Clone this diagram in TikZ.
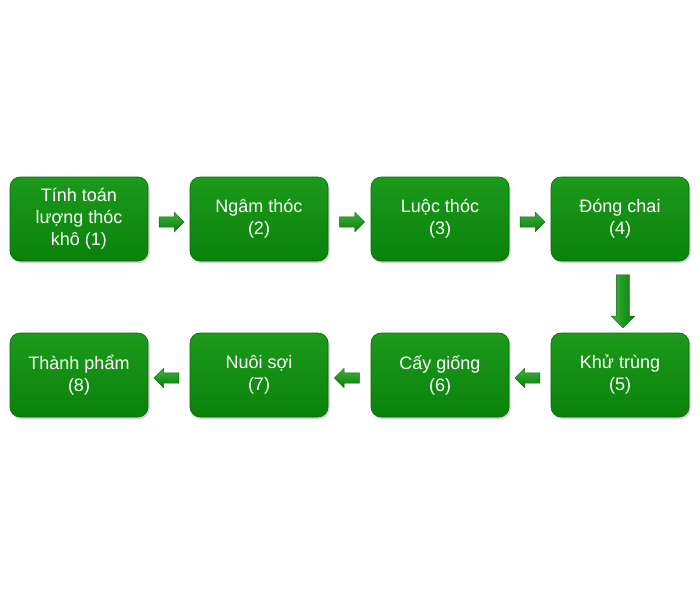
\documentclass[tikz,border=0pt]{standalone}
\usepackage{fontspec}
\setmainfont{Liberation Sans}
\usetikzlibrary{shapes.arrows,shadows,calc}
\definecolor{StepTop}{HTML}{1C9A1C}
\definecolor{StepBottom}{HTML}{0A820A}
\definecolor{StepBorder}{HTML}{086808}
\definecolor{ArrowTop}{HTML}{3CB43C}
\definecolor{ArrowBottom}{HTML}{0A7A0A}

\begin{document}
\begin{tikzpicture}[x=1pt,y=-1pt,
  stepbox/.style={draw=StepBorder,line width=0.6pt,rounded corners=10pt,top color=StepTop,bottom color=StepBottom,
    minimum width=138pt,minimum height=84pt,align=center,text=white,font=\fontsize{18}{22}\selectfont,
    drop shadow={opacity=0.35,shadow xshift=1.5pt,shadow yshift=-2pt}},
  flowarrow/.style={single arrow,draw=StepBorder,line width=0.4pt,top color=ArrowTop,bottom color=ArrowBottom,
    inner sep=5pt,single arrow head extend=4.5pt,minimum height=25pt,single arrow head indent=0pt},
  downarrow/.style={flowarrow,left color=ArrowTop,right color=ArrowBottom,inner sep=6.5pt,single arrow head extend=5pt,
    minimum height=53pt,shape border rotate=270}
]
\useasboundingbox (0,0) rectangle (700,600);
% top row
\node[stepbox] (s1) at (79,219) {Tính toán\\lượng thóc\\khô (1)};
\node[stepbox] (s2) at (259,219) {Ngâm thóc\\(2)};
\node[stepbox] (s3) at (440,219) {Luộc thóc\\(3)};
\node[stepbox] (s4) at (620,219) {Đóng chai\\(4)};
% bottom row
\node[stepbox] (s5) at (620,375) {Khử trùng\\(5)};
\node[stepbox] (s6) at (440,375) {Cấy giống\\(6)};
\node[stepbox] (s7) at (259,375) {Nuôi sợi\\(7)};
\node[stepbox] (s8) at (79,375) {Thành phẩm\\(8)};
% arrows
\node[flowarrow] (a12) at ($(s1.east)!0.5!(s2.west)+(0,3)$) {};
\node[flowarrow] (a23) at ($(s2.east)!0.5!(s3.west)+(0,3)$) {};
\node[flowarrow] (a34) at ($(s3.east)!0.5!(s4.west)+(0,3)$) {};
\node[downarrow] (a45) at ($(s4.south)!0.5!(s5.north)+(3,1)$) {};
\node[flowarrow,shape border rotate=180] (a56) at ($(s5.west)!0.5!(s6.east)+(0,3)$) {};
\node[flowarrow,shape border rotate=180] (a67) at ($(s6.west)!0.5!(s7.east)+(0,3)$) {};
\node[flowarrow,shape border rotate=180] (a78) at ($(s7.west)!0.5!(s8.east)+(0,3)$) {};
\end{tikzpicture}
\end{document}
